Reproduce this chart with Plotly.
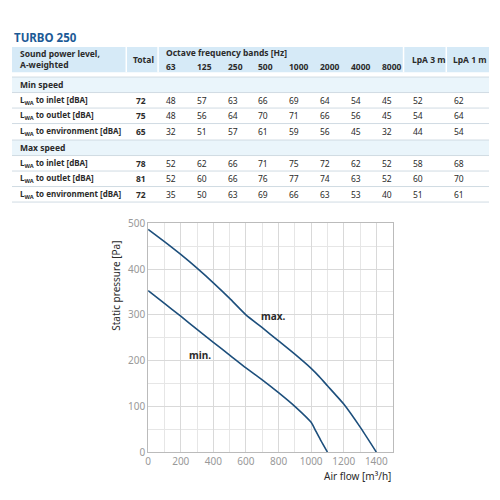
import plotly.graph_objects as go

# fan curves
max_flow = [0, 100, 200, 300, 400, 500, 600, 700, 800, 900, 1000, 1050, 1100, 1200, 1300, 1400]
max_pa = [487, 460, 432, 402, 370, 336, 300, 272, 243, 214, 183, 165, 145, 105, 55, 0]
min_flow = [0, 100, 200, 300, 400, 500, 600, 700, 800, 900, 1000, 1030, 1060, 1100]
min_pa = [353, 325, 297, 268, 240, 212, 184, 158, 130, 100, 65, 45, 25, 0]

# sound table
bands = ["63", "125", "250", "500", "1000", "2000", "4000", "8000"]
row_labels = ["to inlet [dBA]", "to outlet [dBA]", "to environment [dBA]"]
min_total = [72, 75, 65]
min_bands = [[48, 57, 63, 66, 69, 64, 54, 45],
             [48, 56, 64, 70, 71, 66, 56, 45],
             [32, 51, 57, 61, 59, 56, 45, 32]]
min_lpa3 = [52, 54, 44]
min_lpa1 = [62, 64, 54]
max_total = [78, 81, 72]
max_bands = [[52, 62, 66, 71, 75, 72, 62, 52],
             [52, 60, 66, 76, 77, 74, 63, 52],
             [35, 50, 63, 69, 66, 63, 53, 40]]
max_lpa3 = [58, 60, 51]
max_lpa1 = [68, 70, 61]

# page has an 8px body margin, so the figure is 484px and offset by 8
OFF = 8
W = H = 484
FONT = "Noto Sans"
TXT = "#2b2b2b"
LINE = "#1d4f7c"

fig = go.Figure()
fig.add_trace(go.Scatter(x=max_flow, y=max_pa, mode="lines",
                         line=dict(color=LINE, width=1.6, shape="spline", smoothing=0.5)))
fig.add_trace(go.Scatter(x=min_flow, y=min_pa, mode="lines",
                         line=dict(color=LINE, width=1.6, shape="spline", smoothing=0.5)))

shapes, ann = [], []

def px(x):
    return (x - OFF) / W

def py(y):
    return 1 - (y - OFF) / H

def txt(x, y, s, size=8.5, bold=False, anchor="left", color=TXT):
    ann.append(dict(x=px(x), y=py(y), xref="paper", yref="paper", text=f"<b>{s}</b>" if bold else s,
                    showarrow=False, xanchor=anchor, yanchor="middle",
                    font=dict(family=FONT, size=size, color=color)))

def rect(x0, y0, x1, y1, color):
    shapes.append(dict(type="rect", xref="paper", yref="paper", x0=px(x0), x1=px(x1), y0=py(y1), y1=py(y0),
                       fillcolor=color, line=dict(width=0), layer="below"))

def hline(y, x0=9, x1=489):
    shapes.append(dict(type="line", xref="paper", yref="paper", x0=px(x0), x1=px(x1), y0=py(y), y1=py(y),
                       line=dict(color="#d0dbe3", width=1)))

txt(9, 30, "TURBO 250", size=11.5, bold=True, color="#1c5a96")

# header
rect(9, 40, 489, 66, "#d6eaf7")
for xs in [124, 156, 403, 446]:
    shapes.append(dict(type="line", xref="paper", yref="paper", x0=px(xs), x1=px(xs), y0=py(40), y1=py(66),
                       line=dict(color="white", width=1.5)))
txt(15, 47, "Sound power level,", bold=True)
txt(15, 58, "A-weighted", bold=True)
txt(141, 53, "Total", bold=True, anchor="center")
txt(162, 46, "Octave frequency bands [Hz]", bold=True)
col_x = [162, 193, 224, 255, 286, 317, 348, 379]
for cx, b in zip(col_x, bands):
    txt(cx, 60, b, bold=True)
txt(409, 53, "LpA 3 m", bold=True)
txt(451, 53, "LpA 1 m", bold=True)

def section(y0, title, total, vals, l3, l1):
    rect(9, y0, 489, y0 + 16, "#eaf5fb")
    hline(y0)
    txt(15, y0 + 8, title, bold=True)
    for i in range(3):
        y = y0 + 16 + 16 * i
        hline(y)
        txt(15, y + 8, "L<sub>WA</sub> " + row_labels[i], bold=True, size=8)
        txt(132, y + 8, str(total[i]), bold=True)
        for cx, v in zip(col_x, vals[i]):
            txt(cx, y + 8, str(v))
        txt(410, y + 8, str(l3[i]))
        txt(452, y + 8, str(l1[i]))

section(71, "Min speed", min_total, min_bands, min_lpa3, min_lpa1)
section(136, "Max speed", max_total, max_bands, max_lpa3, max_lpa1)
hline(200)

# curve labels (data coords)
ann.append(dict(x=770, y=297, xref="x", yref="y", text="<b>max.</b>", showarrow=False, xanchor="center",
                font=dict(family=FONT, size=10, color=TXT)))
ann.append(dict(x=320, y=212, xref="x", yref="y", text="<b>min.</b>", showarrow=False, xanchor="center",
                font=dict(family=FONT, size=10, color=TXT)))

ann.append(dict(x=px(392), y=py(483), xref="paper", yref="paper", text="Air flow [m³/h]", showarrow=False,
                xanchor="right", yanchor="middle", font=dict(family=FONT, size=10, color=TXT)))
ann.append(dict(x=px(114), y=py(286), xref="paper", yref="paper", text="Static pressure [Pa]", showarrow=False,
                textangle=-90, xanchor="center", yanchor="middle", font=dict(family=FONT, size=10, color=TXT)))

fig.update_layout(
    width=W, height=H, margin=dict(l=0, r=0, t=0, b=0), showlegend=False,
    plot_bgcolor="white", paper_bgcolor="white", shapes=shapes, annotations=ann,
    xaxis=dict(domain=[px(146), px(392)], range=[0, 1500], tickvals=list(range(0, 1401, 200)),
               showgrid=True, gridcolor="#d9d9d9", minor=dict(dtick=100, showgrid=True, gridcolor="#e6e6e6"),
               zeroline=False, showline=True, linecolor="#bbbbbb", mirror=True,
               tickfont=dict(family=FONT, size=10, color="#999999"), ticks=""),
    yaxis=dict(domain=[py(458), py(222)], range=[0, 500], tickvals=list(range(0, 501, 100)),
               showgrid=True, gridcolor="#d9d9d9", minor=dict(dtick=50, showgrid=True, gridcolor="#e6e6e6"),
               zeroline=False, showline=True, linecolor="#bbbbbb", mirror=True,
               tickfont=dict(family=FONT, size=10, color="#999999"), ticks=""),
)

fig.write_html("out.html")
